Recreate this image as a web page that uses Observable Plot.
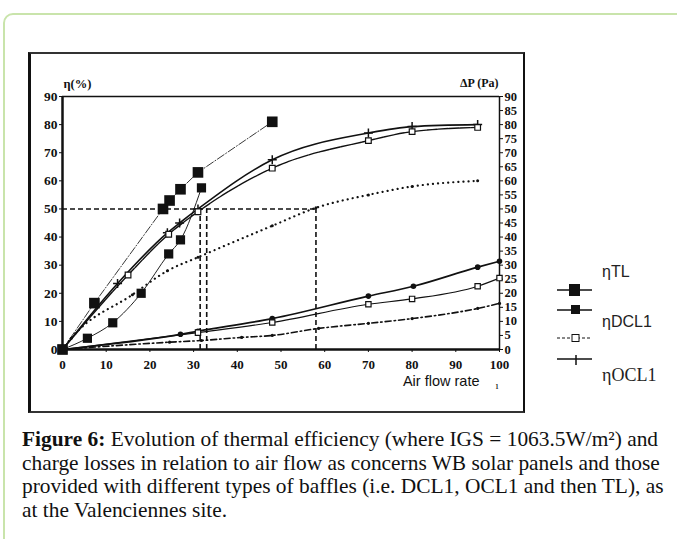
<!DOCTYPE html>
<html><head><meta charset="utf-8">
<script src="https://cdn.jsdelivr.net/npm/d3@7"></script>
<script src="https://cdn.jsdelivr.net/npm/@observablehq/plot@0.6"></script>
<style>
html,body{margin:0;padding:0;background:#fff;}
#wrap{position:relative;width:677px;height:539px;overflow:hidden;background:#fff;}
#green{position:absolute;left:3px;top:13px;width:720px;height:600px;border:2px solid #c9e4ab;border-radius:10px;box-sizing:border-box;}
#scanframe{position:absolute;left:28px;top:52px;width:497px;height:361px;border-left:3px solid #111;border-right:2px solid #111;border-top:2px solid #333;border-bottom:2px solid #333;box-sizing:border-box;}
#chart{position:absolute;left:0;top:0;}
#legend{position:absolute;left:540px;top:255px;}
#caption{position:absolute;left:22px;top:428px;width:652px;font-family:"Liberation Serif",serif;font-size:21.4px;line-height:23.5px;color:#111;}
</style></head>
<body>
<div id="wrap">
  <div id="green"></div>
  <div id="scanframe"></div>
  <div id="chart"></div>
  <div id="legend"></div>
  <div id="caption"><b>Figure 6:</b> Evolution of thermal efficiency (where IGS = 1063.5W/m²) and charge losses in relation to air flow as concerns WB solar panels and those provided with different types of baffles (i.e. DCL1, OCL1 and then TL), as at the Valenciennes site.</div>
</div>
<script>
// ---- data ----
const xTicks = [0,10,20,30,40,50,60,70,80,90,100];
const etaTicks = [0,10,20,30,40,50,60,70,80,90];
const dpTicks = [0,5,10,15,20,25,30,35,40,45,50,55,60,65,70,75,80,85,90];
const xTickLabels = ["0","10","20","30","40","50","60","70","80","90","100"];

const flowTL   = [0, 7.3, 23, 24.5, 27, 31, 48];
const etaTL    = [0, 16.5, 50, 53, 57, 63, 81];

const flowDCL1 = [0, 5.7, 11.5, 18, 24.3, 27, 31.8];
const etaDCL1  = [0, 4, 9.5, 20, 34, 39, 57.5];

const flowOCL1 = [0, 12.6, 24, 26.8, 31, 48, 70, 80, 95];
const etaOCL1  = [0, 23.5, 41.5, 45, 50, 67.5, 77, 79.3, 80];

const flowWB   = [0, 15, 24.3, 31, 48, 70, 80, 95];
const etaWB    = [0, 26.5, 41, 49, 64.5, 74.3, 77.5, 79];

const flowDot  = [0, 2, 16, 24, 31, 48, 58, 70, 80, 95];
const etaDot   = [0, 4, 19.5, 28, 32.8, 44, 50.4, 55, 58, 60];

const flowDp1  = [0, 27, 31, 48, 70, 80.3, 95, 100];
const dp1      = [0, 5.4, 6.5, 11, 19, 22.5, 29.3, 31.4];

const flowDp2  = [0, 31, 48, 70, 80, 95, 100];
const dp2      = [0, 6, 9.6, 16.1, 18, 22.5, 25.4];

const flowDp3  = [0, 24.5, 31.8, 41, 48, 58.6, 70, 80, 95, 100];
const dp3      = [0, 2.6, 3.2, 4.3, 5, 7.5, 9.3, 11, 14.6, 16.4];

const refH = [{y: 50, x1: 0, x2: 58}];
const refV = [{x: 31.5, y: 50}, {x: 33, y: 50}, {x: 58, y: 50}];

const zip = (xs, ys) => xs.map((x, i) => ({x, y: ys[i]}));
const TL = zip(flowTL, etaTL), DCL1 = zip(flowDCL1, etaDCL1), OCL1 = zip(flowOCL1, etaOCL1),
      WB = zip(flowWB, etaWB), DOT = zip(flowDot, etaDot),
      P1 = zip(flowDp1, dp1), P2 = zip(flowDp2, dp2), P3 = zip(flowDp3, dp3);

const ink = "#111";
const chart = Plot.plot({
  width: 677, height: 420,
  marginLeft: 62, marginRight: 178, marginTop: 96, marginBottom: 71,
  x: {domain: [0, 100]},
  y: {domain: [0, 90]},
  style: {fontFamily: "Liberation Serif, serif", fontSize: "13px", fontWeight: "bold", color: ink, background: "transparent", overflow: "visible"},
  marks: [
    // reference dashed lines
    Plot.ruleY(refH, {y: "y", x1: "x1", x2: "x2", stroke: ink, strokeWidth: 1.6, strokeDasharray: "5,3"}),
    Plot.ruleX(refV, {x: "x", y1: 0, y2: "y", stroke: ink, strokeWidth: 1.6, strokeDasharray: "5,3"}),
    // frame
    Plot.ruleX([0], {stroke: ink, strokeWidth: 2.5}),
    Plot.ruleX([100], {stroke: ink, strokeWidth: 1.5}),
    Plot.ruleY([0], {stroke: ink, strokeWidth: 2.5}),
    Plot.ruleY([90], {stroke: ink, strokeWidth: 1.5}),
    // axes
    Plot.axisY({anchor: "left", ticks: etaTicks, tickSize: 3, tickPadding: 2, label: null, fontSize: 13.5}),
    Plot.axisY({anchor: "right", ticks: dpTicks, tickSize: 3, tickPadding: 2, label: null, fontSize: 12.5}),
    Plot.axisX({ticks: xTicks, tickFormat: (d, i) => xTickLabels[i], tickSize: 3, tickPadding: 7, label: null, fontSize: 13}),
    // efficiency curves
    Plot.line(DOT, {x: "x", y: "y", curve: "monotone-x", stroke: ink, strokeWidth: 2.2, strokeDasharray: "0.1,5", strokeLinecap: "round"}),
    Plot.line(TL, {x: "x", y: "y", stroke: "#222", strokeWidth: 0.9, strokeDasharray: "8,2,1,2"}),
    Plot.line(DCL1, {x: "x", y: "y", curve: "monotone-x", stroke: "#222", strokeWidth: 1}),
    Plot.line(OCL1, {x: "x", y: "y", curve: "monotone-x", stroke: ink, strokeWidth: 1.6}),
    Plot.line(WB, {x: "x", y: "y", curve: "monotone-x", stroke: ink, strokeWidth: 1.4, strokeDasharray: "10,1"}),
    // pressure-loss curves
    Plot.line(P1, {x: "x", y: "y", curve: "monotone-x", stroke: ink, strokeWidth: 1.7}),
    Plot.line(P2, {x: "x", y: "y", curve: "monotone-x", stroke: ink, strokeWidth: 1.2}),
    Plot.line(P3, {x: "x", y: "y", curve: "monotone-x", stroke: ink, strokeWidth: 1.6, strokeDasharray: "6,3,1.5,3"}),
    // markers
    Plot.dot(TL, {x: "x", y: "y", symbol: "square", r: 6, fill: ink}),
    Plot.dot(DCL1, {x: "x", y: "y", symbol: "square", r: 5.2, fill: ink}),
    Plot.dot(OCL1.slice(1), {x: "x", y: "y", symbol: "plus", r: 3, stroke: ink, strokeWidth: 1.5}),
    Plot.dot(WB.slice(1), {x: "x", y: "y", symbol: "square", r: 3.2, fill: "white", stroke: ink, strokeWidth: 1.2}),
    Plot.dot(DOT.slice(1), {x: "x", y: "y", r: 1.5, fill: ink}),
    Plot.dot(P1.slice(1), {x: "x", y: "y", r: 2.8, fill: ink}),
    Plot.dot(P2.slice(1), {x: "x", y: "y", symbol: "square", r: 3, fill: "white", stroke: ink, strokeWidth: 1.2}),
    Plot.dot(P3.slice(1), {x: "x", y: "y", r: 1.6, fill: ink}),
    // axis titles
    Plot.text(["η(%)"], {frameAnchor: "top-left", dx: 1, dy: -17, textAnchor: "start", fontSize: 12.5, fontWeight: "bold"}),
    Plot.text(["ΔP (Pa)"], {frameAnchor: "top-right", dx: -1, dy: -18, textAnchor: "end", fontSize: 12, fontWeight: "bold"}),
    Plot.text(["Air flow rate"], {frameAnchor: "bottom-right", dx: -20, dy: 36, textAnchor: "end", fontSize: 14.5, fontWeight: "normal", fontFamily: "Liberation Sans, sans-serif"}),
    Plot.text(["ı"], {frameAnchor: "bottom-right", dx: -1, dy: 39, fontSize: 11, fontWeight: "normal"})
  ]
});
document.getElementById("chart").appendChild(chart);

// legend
const legendItems = [
  {label: "ηTL", font: "Liberation Sans, sans-serif", kind: "bigsq"},
  {label: "ηDCL1", font: "Liberation Sans, sans-serif", kind: "sq"},
  {label: "", kind: "open"},
  {label: "ηOCL1", font: "Liberation Serif, serif", kind: "plus"}
];
const lg = d3.select("#legend").append("svg").attr("width", 137).attr("height", 140);
const symY = [35, 55, 83, 104];
legendItems.forEach((d, i) => {
  const y = symY[i];
  lg.append("line").attr("x1", 17).attr("x2", 52).attr("y1", y).attr("y2", y)
    .attr("stroke", ink).attr("stroke-width", d.kind === "open" ? 1 : 1.5)
    .attr("stroke-dasharray", d.kind === "open" ? "3,2" : null);
  if (d.kind === "bigsq") lg.append("rect").attr("x", 29).attr("y", y - 6).attr("width", 11).attr("height", 12).attr("fill", ink);
  if (d.kind === "sq") lg.append("rect").attr("x", 31).attr("y", y - 5).attr("width", 9).attr("height", 9).attr("fill", ink);
  if (d.kind === "open") lg.append("rect").attr("x", 32).attr("y", y - 3.5).attr("width", 7).attr("height", 7).attr("fill", "white").attr("stroke", ink).attr("stroke-width", 1);
  if (d.kind === "plus") lg.append("line").attr("x1", 36).attr("x2", 36).attr("y1", y - 4).attr("y2", y + 6).attr("stroke", ink).attr("stroke-width", 1.5);
});
const labY = [22, 72, 126];
[legendItems[0], legendItems[1], legendItems[3]].forEach((d, i) => {
  lg.append("text").attr("x", 62).attr("y", labY[i]).attr("font-family", d.font)
    .attr("font-size", d.font.startsWith("Liberation Serif") ? 18 : 16).attr("fill", "#222").text(d.label);
});
</script>
</body></html>
